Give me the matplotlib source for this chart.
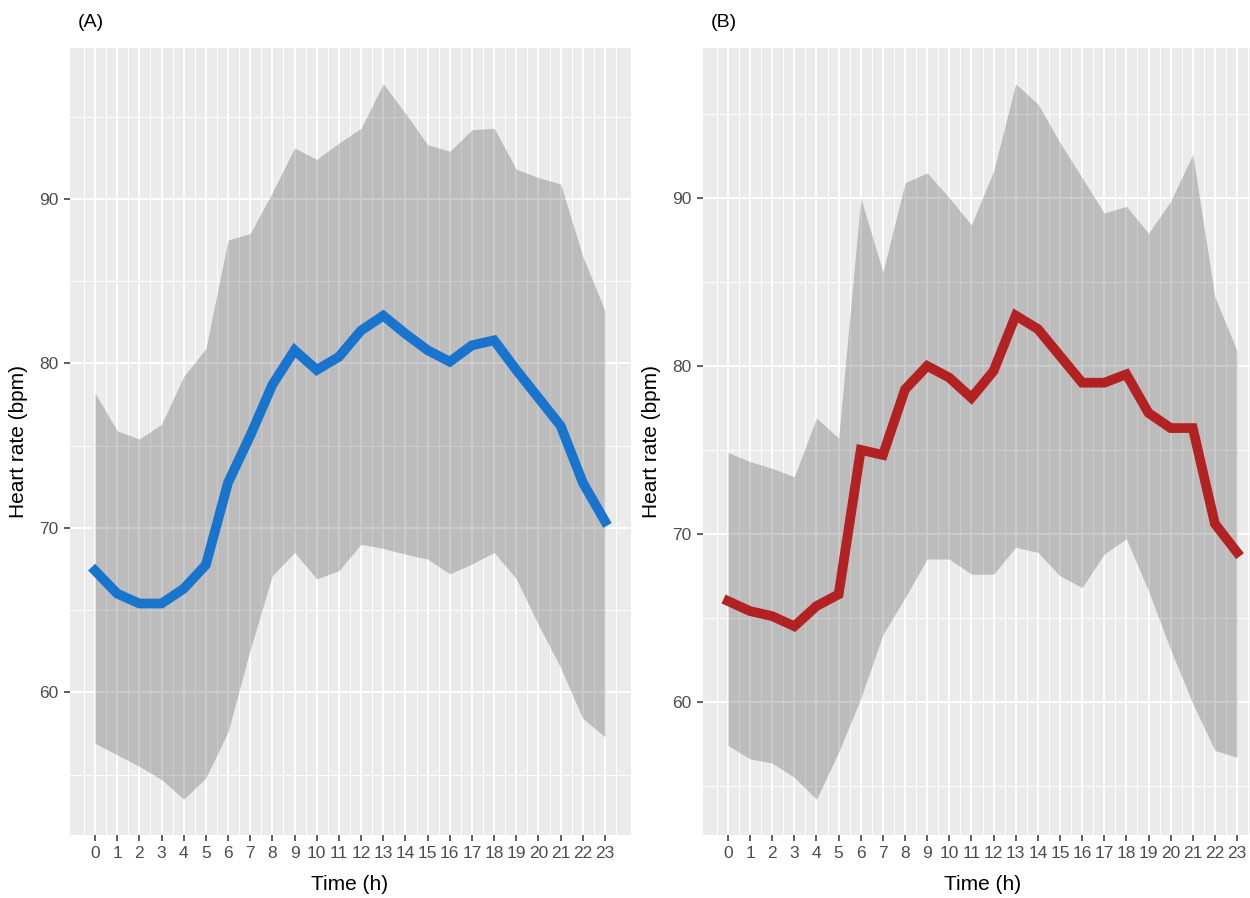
import matplotlib.pyplot as plt
import numpy as np

plt.rcParams['font.family'] = ['Liberation Sans', 'DejaVu Sans']

# giờ trong ngày
hours = list(range(24))

# (A) nhịp tim trung bình + dải trên/dưới
mean_a = [67.4, 66.0, 65.4, 65.4, 66.3, 67.75, 72.75, 75.6, 78.7, 80.8, 79.6, 80.4,
          82.0, 82.9, 81.8, 80.8, 80.1, 81.1, 81.4, 79.6, 77.9, 76.2, 72.75, 70.4]
upper_a = [78.2, 75.9, 75.4, 76.3, 79.2, 80.9, 87.5, 87.9, 90.4, 93.1, 92.4, 93.4,
           94.3, 97.0, 95.2, 93.3, 92.9, 94.2, 94.3, 91.8, 91.3, 90.9, 86.5, 83.2]
lower_a = [56.9, 56.2, 55.5, 54.7, 53.5, 54.8, 57.6, 62.6, 67.1, 68.5, 66.9, 67.4,
           69.0, 68.75, 68.4, 68.1, 67.2, 67.8, 68.5, 66.9, 64.1, 61.5, 58.4, 57.3]

# (B)
mean_b = [66.0, 65.4, 65.1, 64.5, 65.7, 66.4, 75.0, 74.7, 78.6, 80.0, 79.3, 78.1,
          79.7, 83.0, 82.2, 80.6, 79.0, 79.0, 79.5, 77.2, 76.3, 76.3, 70.6, 68.9]
upper_b = [74.85, 74.3, 73.9, 73.4, 76.9, 75.7, 90.0, 85.6, 90.9, 91.5, 90.0, 88.4,
           91.6, 96.8, 95.6, 93.3, 91.2, 89.1, 89.5, 87.9, 89.8, 92.6, 84.1, 80.9]
lower_b = [57.4, 56.6, 56.35, 55.5, 54.2, 57.0, 60.2, 64.0, 66.2, 68.5, 68.5, 67.6,
           67.6, 69.2, 68.9, 67.5, 66.8, 68.8, 69.7, 66.6, 63.1, 59.9, 57.1, 56.7]

y_ticks = [60, 70, 80, 90]

fig = plt.figure(figsize=(12.5, 8.98), dpi=100)
ax_a = fig.add_axes([69.5 / 1250, 63 / 898, 561 / 1250, 787 / 898])
ax_b = fig.add_axes([702.5 / 1250, 63 / 898, 560 / 1250, 787 / 898])


def draw_panel(ax, mean, upper, lower, color, tag):
    ax.set_facecolor('#EBEBEB')
    for s in ax.spines.values():
        s.set_visible(False)
    # lưới kiểu ggplot
    for h in np.arange(-1.5, 25, 1.0):
        ax.axvline(h, color='white', lw=0.7, zorder=0)
    for h in hours:
        ax.axvline(h, color='white', lw=1.3, zorder=0)
    for y in [55, 65, 75, 85, 95]:
        ax.axhline(y, color='white', lw=0.7, zorder=0)
    for y in y_ticks:
        ax.axhline(y, color='white', lw=1.3, zorder=0)

    ax.fill_between(hours, lower, upper, color='black', alpha=0.2, lw=0, zorder=1)
    ax.plot(hours, mean, color=color, lw=7, solid_joinstyle='miter', zorder=2)

    lo, hi = min(lower), max(upper)
    pad = 0.05 * (hi - lo)
    ax.set_ylim(lo - pad, hi + pad)
    ax.set_xlim(-1.15, 24.15)
    ax.set_xticks(hours)
    ax.set_xticklabels([str(h) for h in hours])
    ax.set_yticks(y_ticks)
    ax.tick_params(colors='#333333', labelcolor='#4D4D4D', labelsize=12.5,
                   length=4, width=1.1, pad=4)
    ax.set_xlabel('Time (h)', fontsize=15, labelpad=10)
    ax.set_ylabel('Heart rate (bpm)', fontsize=15, labelpad=8)
    ax.text(0.015, 1.022, tag, transform=ax.transAxes, fontsize=14,
            ha='left', va='bottom')


draw_panel(ax_a, mean_a, upper_a, lower_a, '#1874CD', '(A)')
draw_panel(ax_b, mean_b, upper_b, lower_b, '#B22222', '(B)')

fig.savefig('out.png', dpi=100)
